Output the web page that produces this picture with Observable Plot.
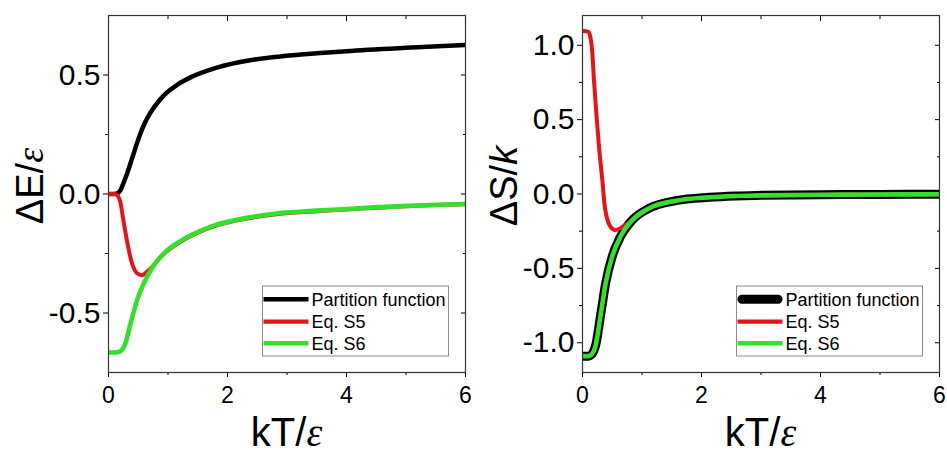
<!DOCTYPE html>
<html>
<head>
<meta charset="utf-8">
<script src="https://cdn.jsdelivr.net/npm/d3@7"></script>
<script src="https://cdn.jsdelivr.net/npm/@observablehq/plot@0.6"></script>
<style>
  html, body { margin: 0; padding: 0; background: #fff; }
  #charts { display: flex; width: 947px; height: 454px; }
  #charts svg { display: block; font-family: "Liberation Sans", Arial, sans-serif; }
</style>
</head>
<body>
<div id="charts"></div>
<script>
// Energy change ΔE/ε against reduced temperature kT/ε
const kT_dE_pf = [0, 0.1, 0.15, 0.2, 0.25, 0.31, 0.42, 0.53, 0.6, 0.7, 0.85, 0.98, 1.15, 1.37, 1.82, 2.38, 2.89, 3.5, 4, 5, 6];
const dE_pf    = [0, 0, 0.003, 0.015, 0.045, 0.084, 0.168, 0.25, 0.293, 0.34, 0.392, 0.426, 0.458, 0.489, 0.531, 0.562, 0.578, 0.591, 0.6, 0.614, 0.626];

const kT_dE_s5 = [0, 0.1, 0.15, 0.2, 0.25, 0.31, 0.39, 0.48, 0.56, 0.67, 0.76, 0.84, 0.98, 1.32, 1.77, 2.33, 2.89, 3.5, 4, 5, 6];
const dE_s5    = [0, 0, -0.006, -0.035, -0.11, -0.196, -0.287, -0.333, -0.341, -0.322, -0.3, -0.275, -0.241, -0.185, -0.136, -0.103, -0.083, -0.072, -0.065, -0.051, -0.043];

const kT_dE_s6 = [0, 0.1, 0.2, 0.28, 0.37, 0.48, 0.59, 0.76, 0.98, 1.32, 1.77, 2.33, 2.89, 3.5, 4, 5, 6];
const dE_s6    = [-0.666, -0.666, -0.66, -0.63, -0.545, -0.447, -0.377, -0.3, -0.238, -0.182, -0.133, -0.1, -0.08, -0.07, -0.063, -0.05, -0.042];

// Entropy change ΔS/k against kT/ε
const kT_dS_pf = [0, 0.1, 0.15, 0.22, 0.31, 0.39, 0.5, 0.64, 0.84, 1.12, 1.57, 2.13, 2.57, 3, 4, 5, 6];
const dS_pf    = [-1.09, -1.09, -1.08, -1.02, -0.8, -0.597, -0.419, -0.286, -0.174, -0.096, -0.045, -0.022, -0.013, -0.009, -0.005, -0.003, -0.002];

const kT_dS_s5 = [0, 0.1, 0.13, 0.16, 0.195, 0.235, 0.28, 0.336, 0.37, 0.41, 0.47, 0.55, 0.63, 0.72, 0.84, 1.12, 1.57, 2.13, 2.57, 3, 4, 5, 6];
const dS_s5    = [1.095, 1.09, 1.06, 0.975, 0.751, 0.528, 0.306, 0.082, -0.07, -0.16, -0.22, -0.242, -0.232, -0.208, -0.176, -0.097, -0.046, -0.023, -0.014, -0.01, -0.006, -0.004, -0.003];

const kT_dS_s6 = [0, 0.1, 0.15, 0.22, 0.31, 0.39, 0.5, 0.64, 0.84, 1.12, 1.57, 2.13, 2.57, 3, 4, 5, 6];
const dS_s6    = [-1.09, -1.09, -1.08, -1.02, -0.8, -0.597, -0.419, -0.286, -0.174, -0.096, -0.045, -0.022, -0.013, -0.009, -0.005, -0.003, -0.002];

// Axis ticks
const xMajor = [0, 2, 4, 6];
const xMinor = [1, 3, 5];
const yMajorE = [-0.5, 0, 0.5];
const yMinorE = [-0.75, -0.25, 0.25, 0.75];
const yMajorS = [-1, -0.5, 0, 0.5, 1];
const yMinorS = [-1.25, -0.75, -0.25, 0.25, 0.75, 1.25];

const legendNames = ["Partition function", "Eq. S5", "Eq. S6"];

const BLACK = "#000000", RED = "#e0161b", GREEN = "#33e02c";
const H = 454, MT = 15, MB = 82;

function lineMark(xs, ys, stroke, strokeWidth) {
  return Plot.line(ys, {x: xs, y: ys, stroke, strokeWidth, curve: "monotone-x",
    strokeLinejoin: "round", strokeLinecap: "round", clip: "frame"});
}

function ticksMarks(yDomain, yMajor, yMinor) {
  const none = () => "";
  const inner = yMinor.filter(v => v > yDomain[0] && v < yDomain[1]);
  return [
    Plot.axisX({anchor: "bottom", ticks: xMajor, tickSize: 5, tickPadding: 9, fontSize: 23,
      tickFormat: d => String(d), label: null}),
    Plot.axisX({anchor: "bottom", ticks: xMinor, tickSize: 3, tickFormat: none, label: null}),
    Plot.axisX({anchor: "top", ticks: xMajor, tickSize: -5, tickFormat: none, label: null}),
    Plot.axisX({anchor: "top", ticks: xMinor, tickSize: -3, tickFormat: none, label: null}),
    Plot.axisY({anchor: "left", ticks: yMajor, tickSize: 5, tickPadding: 3, fontSize: 30,
      tickFormat: d => d.toFixed(1), label: null}),
    Plot.axisY({anchor: "left", ticks: inner, tickSize: 3, tickFormat: none, label: null}),
    Plot.axisY({anchor: "right", ticks: yMajor, tickSize: -5, tickFormat: none, label: null}),
    Plot.axisY({anchor: "right", ticks: inner, tickSize: -3, tickFormat: none, label: null})
  ];
}

function addTitles(svg, xCenter, yTitleX, yMain, yItalic, italicFamily) {
  const s = d3.select(svg);
  const xt = s.append("text")
    .attr("x", xCenter).attr("y", 446)
    .attr("text-anchor", "middle").attr("font-size", 40).attr("fill", "#000");
  xt.append("tspan").text("kT/");
  xt.append("tspan").attr("font-family", "'Liberation Serif', serif").attr("font-style", "italic").text("ε");

  const yt = s.append("text")
    .attr("transform", `translate(${yTitleX},186) rotate(-90)`)
    .attr("text-anchor", "middle").attr("font-size", 38).attr("fill", "#000");
  yt.append("tspan").text(yMain);
  yt.append("tspan").attr("font-family", italicFamily).attr("font-style", "italic").text(yItalic);
}

function addLegend(svg, frameRight, styles) {
  const s = d3.select(svg);
  const bw = 186, bh = 70, bx = frameRight - 16.5 - bw, by = 286;
  const g = s.append("g");
  g.append("rect").attr("x", bx).attr("y", by).attr("width", bw).attr("height", bh)
    .attr("fill", "#fff").attr("stroke", "#8a8a8a").attr("stroke-width", 1);
  const rows = [13.3, 35.7, 57.3];
  legendNames.forEach((name, i) => {
    const st = styles[i];
    const cy = by + rows[i];
    g.append("line")
      .attr("x1", bx + 1 + st.inset).attr("x2", bx + 46 - st.inset)
      .attr("y1", cy).attr("y2", cy)
      .attr("stroke", st.color).attr("stroke-width", st.width)
      .attr("stroke-linecap", st.inset ? "round" : "butt");
    g.append("text").attr("x", bx + 49).attr("y", cy).attr("dy", "0.36em")
      .attr("text-anchor", "start")
      .attr("font-size", 18).attr("fill", "#000").text(name);
  });
}

const styleBase = {fontFamily: "'Liberation Sans', Arial, sans-serif", color: "#000", background: "transparent", overflow: "visible"};

// Left panel: ΔE/ε
const wL = 475, mlL = 108, mrL = 10;
const yDomE = [-0.75, 0.75];
const left = Plot.plot({
  width: wL, height: H, marginLeft: mlL, marginRight: mrL, marginTop: MT, marginBottom: MB,
  style: styleBase,
  x: {domain: [0, 6]},
  y: {domain: yDomE},
  marks: [
    ...ticksMarks(yDomE, yMajorE, yMinorE),
    lineMark(kT_dE_pf, dE_pf, BLACK, 4.5),
    lineMark(kT_dE_s5, dE_s5, RED, 4),
    lineMark(kT_dE_s6, dE_s6, GREEN, 4.6),
    Plot.frame({stroke: "#333", strokeWidth: 1.2})
  ]
});
addTitles(left, mlL + (wL - mlL - mrL) / 2, 43, "ΔE/", "ε", "'Liberation Serif', serif");
addLegend(left, wL - mrL, [
  {color: BLACK, width: 4.5, inset: 0},
  {color: RED, width: 4.2, inset: 0},
  {color: GREEN, width: 4.6, inset: 0}
]);

// Right panel: ΔS/k
const wR = 472, mlR = 107, mrR = 8;
const yDomS = [-1.2, 1.2];
const right = Plot.plot({
  width: wR, height: H, marginLeft: mlR, marginRight: mrR, marginTop: MT, marginBottom: MB,
  style: styleBase,
  x: {domain: [0, 6]},
  y: {domain: yDomS},
  marks: [
    ...ticksMarks(yDomS, yMajorS, yMinorS),
    lineMark(kT_dS_pf, dS_pf, BLACK, 9),
    lineMark(kT_dS_s5, dS_s5, RED, 4),
    lineMark(kT_dS_s6, dS_s6, GREEN, 4.6),
    Plot.frame({stroke: "#333", strokeWidth: 1.2})
  ]
});
addTitles(right, mlR + (wR - mlR - mrR) / 2, 42, "ΔS/", "k", "'Liberation Sans', Arial, sans-serif");
addLegend(right, wR - mrR, [
  {color: BLACK, width: 9, inset: 4.5},
  {color: RED, width: 4.2, inset: 0},
  {color: GREEN, width: 4.6, inset: 0}
]);

document.getElementById("charts").append(left, right);
</script>
</body>
</html>
